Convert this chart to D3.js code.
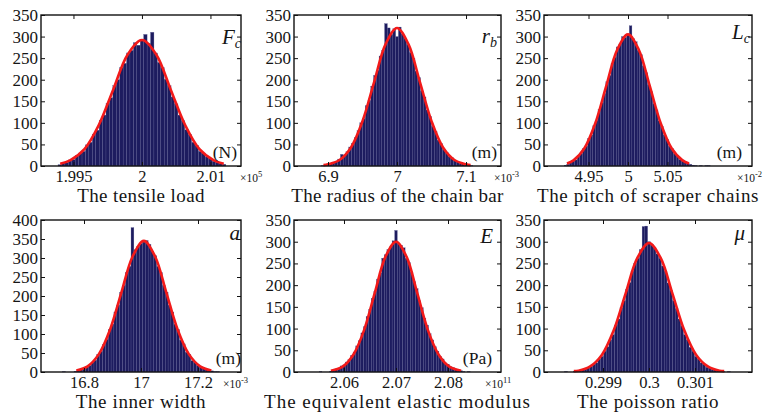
<!DOCTYPE html>
<html>
<head>
<meta charset="utf-8">
<script src="https://cdn.jsdelivr.net/npm/d3@7"></script>
<style>
  body { margin: 0; background: #fff; }
  svg { display: block; }
  text { font-family: "Liberation Serif", "Times New Roman", serif; fill: #151515; }
</style>
</head>
<body>
<div id="chart"></div>
<script>
// ---- data ----
const titles = ["The tensile load", "The radius of the chain bar", "The pitch of scraper chains",
                "The inner width", "The equivalent elastic modulus", "The poisson ratio"];
const symbols = [["F", "c"], ["r", "b"], ["L", "c"], ["a", ""], ["E", ""], ["\u03bc", ""]];
const units = ["(N)", "(m)", "(m)", "(m)", "(Pa)", ""];
const exponents = ["5", "-3", "-2", "-3", "11", ""];

const xTickValues = [[1.995, 2, 2.005], [6.9, 7, 7.1], [4.95, 5, 5.05],
                     [16.8, 17, 17.2], [2.06, 2.07, 2.08], [0.299, 0.3, 0.301]];
const xTickLabels = [["1.995", "2", "2.01"], ["6.9", "7", "7.1"], ["4.95", "5", "5.05"],
                     ["16.8", "17", "17.2"], ["2.06", "2.07", "2.08"], ["0.299", "0.3", "0.301"]];
const xDomains = [[1.99263, 2.00723], [6.8507, 7.1507], [4.89367, 5.15696],
                  [16.64912, 17.35088], [2.050385, 2.090192], [0.297717, 0.302239]];
const yMax = [350, 350, 350, 400, 350, 350];

// histogram: centre of first bin, bin width, counts
const firstBin = [1.994, 6.892, 4.9208, 16.73, 2.0555, 0.2982];
const binWidth = [0.00025, 0.004, 0.0033, 0.01, 0.0005, 0.00006];

const tensileCounts = [3,7,8,14,15,24,30,34,49,55,74,83,106,118,145,158,186,200,228,238,262,268,286,280,
  292,305,284,310,262,240,228,201,186,160,144,118,105,84,73,55,48,34,30,21,17,11,9,5,4];
const radiusCounts = [1,2,3,6,9,11,16,27,25,33,44,53,66,82,100,110,140,152,185,210,222,255,268,330,320,305,318,
  300,322,306,296,282,263,250,220,205,174,160,130,115,92,80,60,52,38,32,22,19,12,10,6,5,3,2,1];
const pitchCounts = [2,4,7,12,14,24,28,40,46,64,72,93,106,131,146,168,195,210,238,252,276,283,300,298,
  306,325,295,288,268,258,232,216,188,172,145,130,105,92,72,62,46,40,28,24,15,14,8,6,4,2,1,0,1,0,1,1];
const widthCounts = [1,0,0,0,2,4,6,9,15,17,26,31,46,54,73,86,112,126,158,176,210,228,262,278,380,322,330,338,
  342,346,336,318,306,278,262,228,210,176,158,126,112,84,74,52,46,30,26,17,14,9,7,4,3,1,1];
const modulusCounts = [1,0,0,0,2,4,7,8,14,16,23,28,38,46,60,72,90,104,128,144,170,186,214,228,262,270,282,288,302,
  326,296,292,286,262,252,230,208,192,164,148,124,108,88,74,58,48,36,30,21,18,12,10,6,5,3,1,0,1];
const poissonCounts = [1,0,0,2,2,3,5,7,10,12,18,21,30,36,48,58,74,86,108,122,148,164,190,206,232,250,262,282,335,336,
  300,294,286,272,262,244,232,205,188,164,146,122,106,86,74,57,48,36,30,21,18,11,10,6,5,3,2,1,0,1];

// fitted normal curves
const tensileFit = [[1.99403,5],[1.99475,13],[1.9958,39],[1.99685,95],[1.9979,177],[1.99895,258],[2.0,292],
  [2.00105,258],[2.0021,177],[2.00315,95],[2.0042,39],[2.00525,13],[2.00597,5]];
const radiusFit = [[6.8934,2],[6.9,4],[6.9167,14],[6.9333,43],[6.95,104],[6.9667,194],[6.9833,282],[7.0,320],
  [7.0167,282],[7.0333,194],[7.05,104],[7.0667,43],[7.0833,14],[7.1,4],[7.1066,2]];
const pitchFit = [[4.9227,6],[4.931,13],[4.9448,41],[4.9586,99],[4.9724,185],[4.9862,269],[5.0,305],
  [5.0138,269],[5.0276,185],[5.0414,99],[5.0552,41],[5.069,13],[5.0773,6]];
const widthFit = [[16.7732,4],[16.8126,15],[16.8521,47],[16.8916,112],[16.9311,209],[16.9705,304],[17.01,345],
  [17.0495,304],[17.0889,209],[17.1284,112],[17.1679,47],[17.2074,15],[17.2468,4]];
const modulusFit = [[2.05748,3],[2.05981,13],[2.06185,41],[2.06388,97],[2.06592,182],[2.06796,265],[2.07,300],
  [2.07204,265],[2.07408,182],[2.07612,97],[2.07815,41],[2.08019,13],[2.08252,3]];
const poissonFit = [[0.298365,2],[0.298467,3],[0.298722,13],[0.298978,40],[0.299233,96],[0.299489,180],
  [0.299744,262],[0.3,297],[0.300256,262],[0.300511,180],[0.300767,96],[0.301022,40],[0.301278,13],
  [0.301533,3],[0.301635,2]];

const counts = [tensileCounts, radiusCounts, pitchCounts, widthCounts, modulusCounts, poissonCounts];
const fits = [tensileFit, radiusFit, pitchFit, widthFit, modulusFit, poissonFit];

// ---- layout ----
const width = 777, height = 412;
const colLeft = [41, 294, 544], colWidth = [200, 207, 208];
const rowTop = [15, 220], rowHeight = [151, 152];
const unitRight = [4, 4, 10, 0, 9, 0];
const symbolRight = [0, 4, 2, 1, 8, 7];
const symbolBase = [29, 28, 24, 20, 23, 20];
const expLeft = [-1, -7, -15, -18, -16, 0];
const titleSpacing = [0.4, 0.3, 0.6, 0.6, 1.0, 0.6];

const svg = d3.select("#chart").append("svg")
  .attr("width", width)
  .attr("height", height);

svg.append("rect").attr("width", width).attr("height", height).attr("fill", "#fff");

function drawPanel(i) {
  const col = i % 3, row = Math.floor(i / 3);
  const w = colWidth[col], h = rowHeight[row];
  const g = svg.append("g").attr("transform", `translate(${colLeft[col]},${rowTop[row]})`);

  const x = d3.scaleLinear().domain(xDomains[i]).range([0, w]);
  const y = d3.scaleLinear().domain([0, yMax[i]]).range([h, 0]);

  const bins = counts[i].map((c, k) => ({ x0: firstBin[i] + (k - 0.5) * binWidth[i],
                                          x1: firstBin[i] + (k + 0.5) * binWidth[i], n: c }))
                        .filter(d => d.n > 0);

  g.selectAll("rect.bar").data(bins).enter().append("rect")
    .attr("class", "bar")
    .attr("x", d => x(d.x0))
    .attr("width", d => x(d.x1) - x(d.x0))
    .attr("y", d => y(d.n))
    .attr("height", d => h - y(d.n))
    .attr("fill", "#1d1c5f")
    .attr("stroke", "#5e5e94")
    .attr("stroke-width", 0.3);

  const line = d3.line()
    .x(d => x(d[0]))
    .y(d => y(d[1]))
    .curve(d3.curveCatmullRom.alpha(0.5));

  g.append("path")
    .datum(fits[i])
    .attr("d", line)
    .attr("fill", "none")
    .attr("stroke", "#f21a1a")
    .attr("stroke-width", 2.6);

  // axes with inward ticks on all four sides
  const yTicks = d3.range(0, yMax[i] + 1, 50);
  const xAx = g.append("g")
    .attr("transform", `translate(0,${h})`)
    .call(d3.axisBottom(x).tickValues(xTickValues[i])
      .tickFormat((d, j) => xTickLabels[i][j])
      .tickSizeInner(-4).tickSizeOuter(0).tickPadding(4));
  xAx.selectAll("text").attr("font-size", 16.5).attr("font-family", null);

  const yAx = g.append("g")
    .call(d3.axisLeft(y).tickValues(yTicks).tickFormat(d3.format("d"))
      .tickSizeInner(-4).tickSizeOuter(0).tickPadding(3));
  yAx.selectAll("text").attr("font-size", 17).attr("font-family", null);

  g.append("g").call(d3.axisTop(x).tickValues(xTickValues[i]).tickFormat("")
    .tickSizeInner(-4).tickSizeOuter(0));
  g.append("g").attr("transform", `translate(${w},0)`)
    .call(d3.axisRight(y).tickValues(yTicks).tickFormat("")
      .tickSizeInner(-4).tickSizeOuter(0));

  g.selectAll(".domain").remove();
  g.selectAll(".tick line").attr("stroke", "#111").attr("stroke-width", 1);

  g.append("rect")
    .attr("width", w).attr("height", h)
    .attr("fill", "none").attr("stroke", "#111").attr("stroke-width", 1.4);

  // symbol in the upper right corner
  const sym = g.append("text")
    .attr("x", w - symbolRight[i]).attr("y", symbolBase[i])
    .attr("text-anchor", "end")
    .attr("font-size", 21).attr("font-style", "italic")
    .text(symbols[i][0]);
  if (symbols[i][1]) {
    sym.append("tspan").attr("dy", 4).attr("font-size", 14).text(symbols[i][1]);
  }

  if (units[i]) {
    g.append("text")
      .attr("x", w - unitRight[i]).attr("y", h - 8.5)
      .attr("text-anchor", "end")
      .attr("font-size", 17.5)
      .text(units[i]);
  }

  if (exponents[i]) {
    const ex = g.append("text")
      .attr("x", w + expLeft[i]).attr("y", h + 16)
      .attr("font-size", 11.5)
      .attr("fill", "#333")
      .text("\u00d710");
    ex.append("tspan").attr("dy", -5).attr("font-size", 8.5).text(exponents[i]);
  }

  g.append("text")
    .attr("x", w / 2).attr("y", h + 36)
    .attr("text-anchor", "middle")
    .attr("font-size", 19)
    .attr("letter-spacing", titleSpacing[i])
    .text(titles[i]);
}

d3.range(6).forEach(drawPanel);
</script>
</body>
</html>
